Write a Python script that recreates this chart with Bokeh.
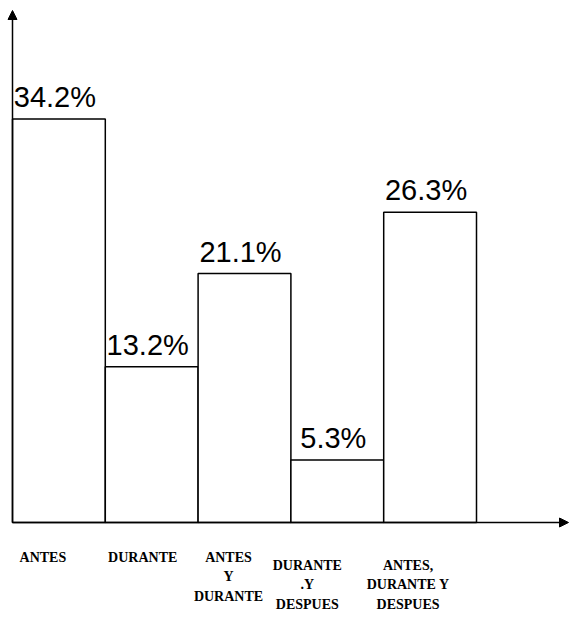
from bokeh.plotting import figure
from bokeh.models import ColumnDataSource, Arrow, NormalHead, Range1d
from bokeh.embed import file_html
from bokeh.resources import INLINE
from bokeh.core.properties import value

# ---- data ----
categories = ["ANTES", "DURANTE", "ANTES\nY\nDURANTE", "DURANTE\n.Y\nDESPUES", "ANTES,\nDURANTE Y\nDESPUES"]
percent = [34.2, 13.2, 21.1, 5.3, 26.3]
percent_labels = ["34.2%", "13.2%", "21.1%", "5.3%", "26.3%"]

# ---- layout / style (not data) ----
W, H = 570, 612
PX_X = 92.8   # px per bar
PX_Y = 11.8   # px per percent
X0, Y0 = 12, 522  # axis origin in px
label_dx = [-16, -9, -16, -30, -22]
label_dy = [27, 27, 27, 35, 35]

n = len(categories)
left = list(range(n))
right = [i + 1 for i in range(n)]
center = [i + 0.5 for i in range(n)]

p = figure(width=W, height=H, output_backend="svg", toolbar_location=None,
           x_range=Range1d(-X0 / PX_X, (W - X0) / PX_X),
           y_range=Range1d((Y0 - H) / PX_Y, Y0 / PX_Y),
           min_border=0, min_border_left=0, min_border_right=0,
           min_border_top=0, min_border_bottom=0)
p.xaxis.visible = False
p.yaxis.visible = False
p.grid.visible = False
p.outline_line_color = None
p.background_fill_color = "white"
p.border_fill_color = "white"

src = ColumnDataSource(dict(left=left, right=right, top=percent, bottom=[0] * n,
                            center=center, pl=percent_labels, cat=categories,
                            zero=[0] * n, dx=label_dx, dy=label_dy))

p.quad(left="left", right="right", top="top", bottom="bottom", source=src,
       fill_color="white", line_color="black", line_width=1.5)

# axes as arrows
p.add_layout(Arrow(x_start=0, y_start=0, x_end=0, y_end=(Y0 - 10) / PX_Y, line_width=1.5,
                   line_color="black",
                   end=NormalHead(size=9, fill_color="black", line_color="black")))
p.add_layout(Arrow(x_start=0, y_start=0, x_end=(W - 2 - X0) / PX_X, y_end=0, line_width=1.5,
                   line_color="black",
                   end=NormalHead(size=9, fill_color="black", line_color="black")))

# value labels
p.text(x="center", y="top", text="pl", source=src, text_align="center",
       text_baseline="alphabetic", y_offset=-22, x_offset=-4,
       text_font=value("Liberation Sans"), text_font_size="29px",
       text_color="black")

# category labels
p.text(x="center", y="zero", text="cat", source=src, text_align="center",
       text_baseline="top", x_offset="dx", y_offset="dy",
       text_font=value("Liberation Serif"), text_font_style="bold",
       text_font_size="14px", text_line_height=1.3, text_color="black")

open("out.html", "w").write(file_html(p, INLINE))
